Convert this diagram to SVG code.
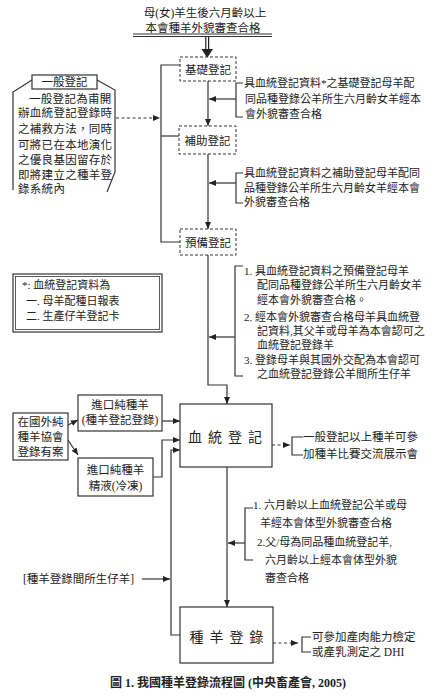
<svg xmlns="http://www.w3.org/2000/svg" width="443" height="700" viewBox="0 0 443 700">
<defs>
<marker id="ah" markerWidth="7" markerHeight="6" refX="7" refY="3" orient="auto" markerUnits="userSpaceOnUse">
<path d="M0,0 L7,3 L0,6 z" fill="#222"/>
</marker>
<style>
text{font-family:"Liberation Serif","Noto Sans CJK TC",serif;fill:#222;}
.t11{font-size:11px;}
.t12{font-size:11.5px;}
.big{font-size:14px;letter-spacing:6px;}
.box{fill:#fff;stroke:#333;stroke-width:1.2;}
.dbox{fill:#fff;stroke:#333;stroke-width:1;stroke-dasharray:3,2;}
.ln{fill:none;stroke:#333;stroke-width:1.2;}
.dl{fill:none;stroke:#333;stroke-width:1.2;stroke-dasharray:3,2.5;}
.cap{font-size:12px;font-weight:bold;}
</style>
</defs>
<rect width="443" height="700" fill="#fff"/>

<g id="title">
<text class="t12" x="205" y="17" text-anchor="middle">母(女)羊生後六月齡以上</text>
<text class="t12" x="203" y="32" text-anchor="middle">本會種羊外貌審查合格</text>
<line x1="133" y1="34" x2="272" y2="34" stroke="#333" stroke-width="1"/>
<line x1="133" y1="36.5" x2="272" y2="36.5" stroke="#333" stroke-width="1"/>
</g>

<g id="connectors">
<line x1="205.8" y1="37" x2="205.8" y2="50" stroke="#222" stroke-width="1.2"/>
<line x1="208.6" y1="37" x2="208.6" y2="50" stroke="#222" stroke-width="1.2"/>
<path d="M201.5,49 L213,49 L207.2,58 z" fill="#222"/>
<line class="ln" x1="208" y1="81" x2="208" y2="126" marker-end="url(#ah)"/>
<line class="ln" x1="208" y1="154" x2="208" y2="229" marker-end="url(#ah)"/>
<path class="ln" d="M208,255 V385 H227 V404" marker-end="url(#ah)"/>
<path class="ln" d="M243,83 H236 V117 H243"/>
<line class="ln" x1="236" y1="99" x2="209" y2="99" marker-end="url(#ah)"/>
<path class="ln" d="M243,173 H236 V203 H243"/>
<line class="ln" x1="236" y1="183" x2="209" y2="183" marker-end="url(#ah)"/>
<path class="ln" d="M243,266 H235 V376 H243"/>
<line class="ln" x1="235" y1="337" x2="209" y2="337" marker-end="url(#ah)"/>
<path class="ln" d="M180,65 H161 V242 H180"/>
<line class="ln" x1="161" y1="136" x2="179" y2="136"/>
<line class="dl" x1="116" y1="118" x2="160" y2="118" marker-end="url(#ah)"/>
<line class="ln" x1="68" y1="425" x2="78" y2="420" marker-end="url(#ah)"/>
<line class="ln" x1="68" y1="440" x2="78" y2="455" marker-end="url(#ah)"/>
<line class="ln" x1="162" y1="421" x2="180" y2="421" marker-end="url(#ah)"/>
<path class="ln" d="M153,477 H162 V440 H180" marker-end="url(#ah)"/>
<path class="ln" d="M180,635 H171 V450 H180" marker-end="url(#ah)"/>
<line class="ln" x1="142" y1="579" x2="170" y2="579" marker-end="url(#ah)"/>
<line class="ln" x1="227" y1="467" x2="227" y2="607" marker-end="url(#ah)"/>
<path class="ln" d="M253,508 H245 V560 H253"/>
<line class="ln" x1="245" y1="543" x2="228" y2="543" marker-end="url(#ah)"/>
<line class="dl" x1="272" y1="445" x2="290" y2="445" marker-end="url(#ah)"/>
<path class="ln" d="M303,437 H292 V455 H303"/>
<line class="dl" x1="273" y1="643" x2="298" y2="643" marker-end="url(#ah)"/>
<path class="ln" d="M311,637 H302 V652 H311"/>
</g>

<g id="node-basic">
<rect class="dbox" x="180" y="57" width="56" height="24"/>
<text class="t12" x="208" y="73.5" text-anchor="middle">基礎登記</text>
</g>
<g id="note-basic">
<text class="t11" x="244" y="87">具血統登記資料*之基礎登記母羊配</text>
<text class="t11" x="245" y="103">同品種登錄公羊所生六月齡女羊經本</text>
<text class="t11" x="245" y="118">會外貌審查合格</text>
</g>

<g id="node-aux">
<rect class="dbox" x="179" y="126" width="57" height="28"/>
<text class="t12" x="207.5" y="144.5" text-anchor="middle">補助登記</text>
</g>
<g id="note-aux">
<text class="t11" x="244" y="177">具血統登記資料之補助登記母羊配同</text>
<text class="t11" x="244" y="192">品種登錄公羊所生六月齡女羊經本會</text>
<text class="t11" x="244" y="206">外貌審查合格</text>
</g>

<g id="node-prep">
<rect class="dbox" x="180" y="229" width="56" height="26"/>
<text class="t12" x="208" y="246.5" text-anchor="middle">預備登記</text>
</g>
<g id="note-prep">
<text class="t11" x="244" y="275">1. 具血統登記資料之預備登記母羊</text>
<text class="t11" x="257" y="289">配同品種登錄公羊所生六月齡女羊</text>
<text class="t11" x="257" y="304">經本會外貌審查合格。</text>
<text class="t11" x="244" y="321">2. 經本會外貌審查合格母羊具血統登</text>
<text class="t11" x="257" y="335">記資料,其父羊或母羊為本會認可之</text>
<text class="t11" x="257" y="349">血統登記登錄羊</text>
<text class="t11" x="244" y="364">3. 登錄母羊與其國外交配為本會認可</text>
<text class="t11" x="257" y="378">之血統登記登錄公羊間所生仔羊</text>
</g>

<g id="node-general">
<path class="ln" d="M32,80 L13,92 V190"/>
<path class="ln" d="M97,80 L115,90 V172 L107,192"/>
<rect class="box" x="32" y="75" width="65" height="14"/>
<text class="t12" x="64.5" y="86" text-anchor="middle">一般登記</text>
<text class="t12" x="29" y="103" letter-spacing="0.3">一般登記為甫開</text>
<text class="t12" x="18" y="117" letter-spacing="0.3">辦血統登記登錄時</text>
<text class="t12" x="18" y="133" letter-spacing="0.3">之補救方法，同時</text>
<text class="t12" x="18" y="149" letter-spacing="0.3">可將已在本地演化</text>
<text class="t12" x="18" y="164" letter-spacing="0.3">之優良基因留存於</text>
<text class="t12" x="18" y="179" letter-spacing="0.3">即將建立之種羊登</text>
<text class="t12" x="18" y="193" letter-spacing="0.3">錄系統內</text>
</g>

<g id="footnote">
<rect x="13" y="274" width="149" height="58" fill="#fff" stroke="#333" stroke-width="1.2"/>
<rect x="15.5" y="276.5" width="144" height="53" fill="none" stroke="#333" stroke-width="0.8"/>
<text class="t11" x="22" y="289">*:  血統登記資料為</text>
<text class="t11" x="26" y="305">一. 母羊配種日報表</text>
<text class="t11" x="26" y="320">二. 生產仔羊登記卡</text>
</g>

<g id="node-foreign">
<rect class="box" x="13" y="413" width="55" height="47"/>
<text class="t12" x="40.5" y="426" text-anchor="middle">在國外純</text>
<text class="t12" x="40.5" y="441" text-anchor="middle">種羊協會</text>
<text class="t12" x="40.5" y="456" text-anchor="middle">登錄有案</text>
</g>

<g id="node-import-sheep">
<rect class="box" x="78" y="395" width="84" height="36"/>
<text class="t12" x="120" y="409" text-anchor="middle">進口純種羊</text>
<text class="t12" x="120" y="424" text-anchor="middle">(種羊登記登錄)</text>
</g>

<g id="node-import-semen">
<rect class="box" x="78" y="458" width="75" height="38"/>
<text class="t12" x="115.5" y="474" text-anchor="middle">進口純種羊</text>
<text class="t12" x="115.5" y="490" text-anchor="middle">精液(冷凍)</text>
</g>

<g id="node-pedigree">
<rect class="box" x="180" y="404" width="92" height="63"/>
<text class="big" x="228" y="442" text-anchor="middle">血統登記</text>
</g>
<g id="note-pedigree">
<text class="t12" x="303" y="441">一般登記以上種羊可參</text>
<text class="t12" x="303" y="458">加種羊比賽交流展示會</text>
</g>

<g id="note-reg">
<text class="t11" x="253" y="509">1. 六月齡以上血統登記公羊或母</text>
<text class="t11" x="260" y="527">羊經本會体型外貌審查合格</text>
<text class="t11" x="257" y="546">2.父/母為同品種血統登記羊,</text>
<text class="t11" x="265" y="564">六月齡以上經本會体型外貌</text>
<text class="t11" x="265" y="582">審查合格</text>
</g>

<g id="label-offspring">
<text class="t12" x="23" y="583">[種羊登錄間所生仔羊]</text>
</g>

<g id="node-registry">
<rect class="box" x="180" y="607" width="93" height="56"/>
<text class="big" x="229.5" y="642" text-anchor="middle">種羊登錄</text>
</g>
<g id="note-registry">
<text class="t12" x="312" y="641">可參加產肉能力檢定</text>
<text class="t12" x="312" y="656">或產乳測定之 DHI</text>
</g>

<g id="caption">
<text class="cap" x="228" y="687" text-anchor="middle">圖 1. 我國種羊登錄流程圖 (中央畜產會, 2005)</text>
</g>
</svg>
